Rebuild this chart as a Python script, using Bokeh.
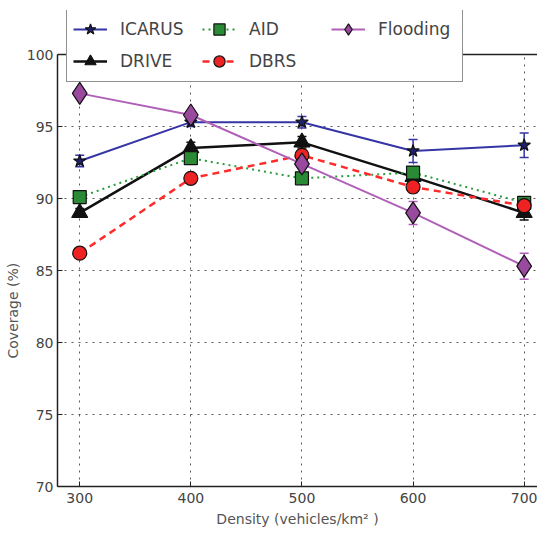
from bokeh.plotting import figure
from bokeh.models import (ColumnDataSource, Whisker, TeeHead, Legend, LegendItem,
                          FixedTicker, Range1d, Span, BoxAnnotation, Title)
from bokeh.embed import file_html
from bokeh.resources import INLINE

density = [300, 400, 500, 600, 700]

icarus = [92.6, 95.3, 95.3, 93.3, 93.7]
icarus_err = [0.4, 0.3, 0.4, 0.8, 0.85]
drive = [89.0, 93.5, 93.9, 91.5, 89.0]
drive_err = [0.3, 0.4, 0.4, 0.3, 0.5]
aid = [90.1, 92.8, 91.4, 91.8, 89.7]
aid_err = [0.3, 0.3, 0.3, 0.4, 0.4]
dbrs = [86.2, 91.4, 93.0, 90.8, 89.5]
dbrs_err = [0.3, 0.3, 0.4, 0.4, 0.5]
flooding = [97.3, 95.8, 92.4, 89.0, 85.3]
flooding_err = [0.3, 0.3, 0.3, 0.8, 0.9]

x_ticks = [300, 400, 500, 600, 700]
y_ticks = [70, 75, 80, 85, 90, 95, 100]

series = [
    # name, values, errors, line color, dash, marker, size, fill, line width
    ("ICARUS", icarus, icarus_err, "#3535a5", "solid", "star", 13, "#202070", 2),
    ("DRIVE", drive, drive_err, "#111111", "solid", "triangle", 16, "#111111", 2.5),
    ("AID", aid, aid_err, "#2a9a3a", "2 4", "square", 13, "#2a8a35", 2),
    ("DBRS", dbrs, dbrs_err, "#ff2a2a", "7 5", "circle", 14, "#ee2222", 2.5),
    ("Flooding", flooding, flooding_err, "#b060b8", "solid", "diamond", 22, "#9a4a9e", 2),
]

TXT = "#444444"
FONT = "DejaVu Sans"

# frame spans 70..100 over 432 px; the extra room above 100 holds the legend
y_top = 100 + 44 / 14.4

p = figure(width=537, height=529, output_backend="svg", toolbar_location=None,
           x_range=Range1d(280, 712), y_range=Range1d(70, y_top),
           min_border_left=0, min_border_right=0, min_border_top=10,
           min_border_bottom=0, outline_line_color=None)

p.xaxis.ticker = FixedTicker(ticks=x_ticks)
p.yaxis.ticker = FixedTicker(ticks=y_ticks)
p.yaxis.bounds = (70, 100)
for ax in (p.xaxis, p.yaxis):
    ax.minor_tick_line_color = None
    ax.major_tick_in = 5
    ax.major_tick_out = 0
    ax.axis_line_color = "#222222"
    ax.axis_line_width = 1.5
    ax.major_tick_line_color = "#222222"
    ax.major_label_text_font = FONT
    ax.major_label_text_font_size = "14px"
    ax.major_label_text_color = TXT

p.xaxis.major_label_standoff = 6
p.yaxis.major_label_standoff = 4

xtitle = Title(text="Density (vehicles/km\u00b2 )", align="center",
               vertical_align="bottom", standoff=6,
               text_font=FONT, text_font_size="14px", text_font_style="normal",
               text_color="#555555")
p.add_layout(xtitle, "below")

ytitle = Title(text="Coverage (%)", align="left", offset=128, standoff=5,
               vertical_align="bottom",
               text_font=FONT, text_font_size="14px", text_font_style="normal",
               text_color="#555555")
p.add_layout(ytitle, "left")

p.grid.grid_line_color = "#333333"
p.grid.grid_line_dash = "2 5"
p.grid.grid_line_alpha = 0.8
p.xgrid.ticker = FixedTicker(ticks=x_ticks)
p.ygrid.ticker = FixedTicker(ticks=y_ticks)

# blank out the area above the top of the axes and draw the top border
p.add_layout(BoxAnnotation(bottom=100, fill_color="white", fill_alpha=1.0,
                           line_color=None, level="underlay"))
p.add_layout(Span(location=100, dimension="width", line_color="#222222",
                  line_width=1.5))

items = []
for name, vals, errs, col, dash, marker, size, fill, lw in series:
    src = ColumnDataSource(dict(
        x=density, y=vals,
        lo=[v - e for v, e in zip(vals, errs)],
        hi=[v + e for v, e in zip(vals, errs)],
    ))
    w = Whisker(base="x", lower="lo", upper="hi", source=src,
                line_color=col, line_width=1.5,
                upper_head=TeeHead(size=9, line_color=col, line_width=1.5),
                lower_head=TeeHead(size=9, line_color=col, line_width=1.5))
    p.add_layout(w)
    ln = p.line("x", "y", source=src, line_color=col, line_width=lw, line_dash=dash)
    sc = p.scatter("x", "y", source=src, marker=marker, size=size,
                   fill_color=fill, line_color="#111111", line_width=1.2)
    items.append(LegendItem(label=name, renderers=[ln, sc]))

legend = Legend(items=items, orientation="vertical", nrows=2,
                location=(9, 404),
                label_text_font=FONT, label_text_font_size="17px",
                label_text_color=TXT, label_width=78, label_standoff=13,
                glyph_width=34, glyph_height=28, spacing=4, padding=6,
                border_line_color="#222222", border_line_width=1.5,
                background_fill_color="white", background_fill_alpha=1.0)
p.add_layout(legend, "center")

open("out.html", "w").write(file_html(p, INLINE))
